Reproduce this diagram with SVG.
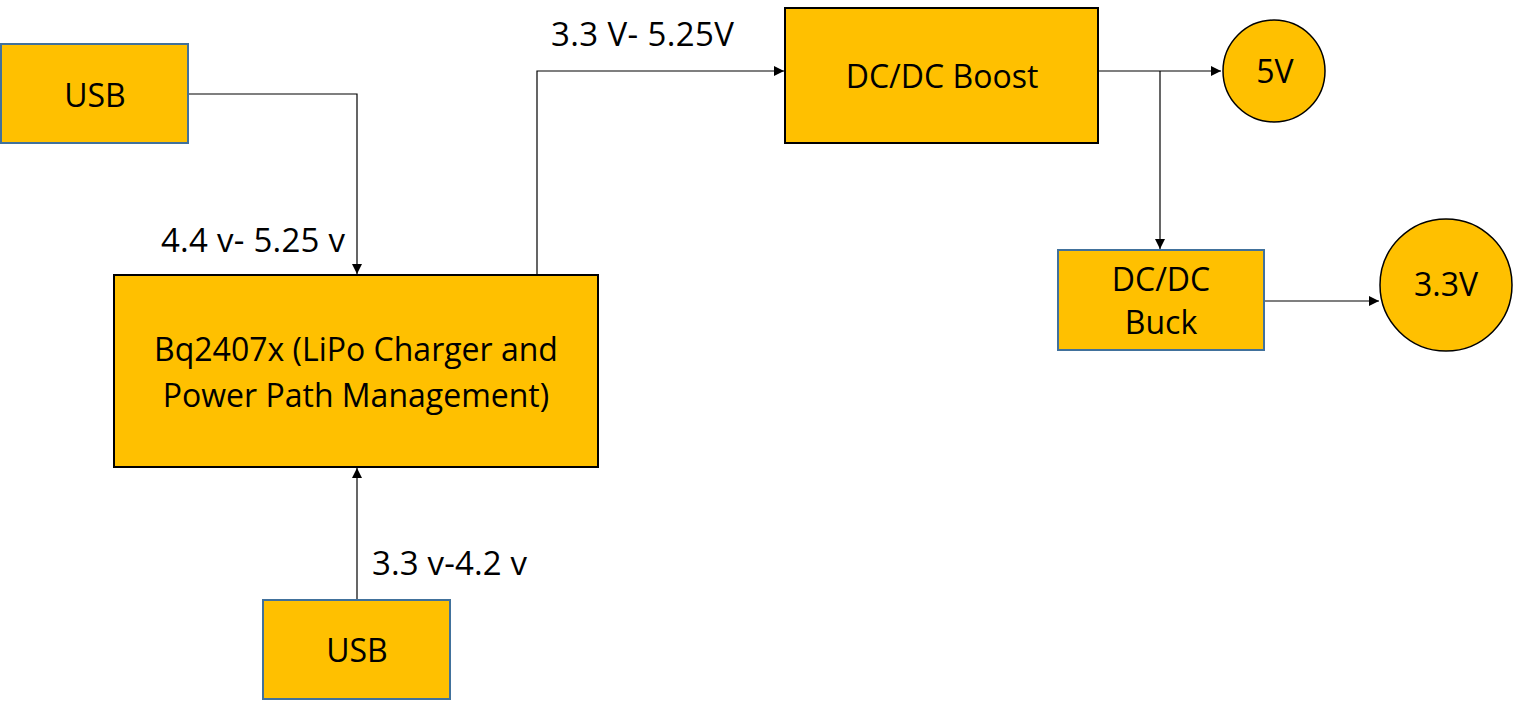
<svg xmlns="http://www.w3.org/2000/svg" width="1513" height="701" viewBox="0 0 1513 701">
<style>
.box{fill:#FFC000;}
.blue{stroke:#41719C;stroke-width:2;}
.blk{stroke:#000;stroke-width:2;}
.t{font-family:"Open Sans","Noto Sans",sans-serif;fill:#000;text-anchor:middle;font-size:32px;}
.lbl{font-family:"Open Sans","Noto Sans",sans-serif;fill:#000;font-size:33px;}
.c{fill:none;stroke:#000;stroke-width:1.2;}
</style>
<defs>
<marker id="ah" markerWidth="10" markerHeight="10" refX="10" refY="5" orient="auto" markerUnits="userSpaceOnUse">
<path d="M0,0 L10,5 L0,10 z" fill="#000"/>
</marker>
</defs>
<rect width="1513" height="701" fill="#fff"/>
<g id="connectors">
<path class="c" d="M188,94 H357 V274" marker-end="url(#ah)"/>
<path class="c" d="M357,600 V468" marker-end="url(#ah)"/>
<path class="c" d="M537,275 V71 H784" marker-end="url(#ah)"/>
<path class="c" d="M1098,71 H1221" marker-end="url(#ah)"/>
<path class="c" d="M1160,71 V249" marker-end="url(#ah)"/>
<path class="c" d="M1264,301 H1379" marker-end="url(#ah)"/>
</g>
<g id="labels">
<text class="lbl" x="161" y="252" textLength="184">4.4 v- 5.25 v</text>
<text class="lbl" x="551" y="46" textLength="183">3.3 V- 5.25V</text>
<text class="lbl" x="372" y="575" textLength="155">3.3 v-4.2 v</text>
</g>
<g id="usb-top">
<rect class="box blue" x="1" y="44" width="187" height="99"/>
<text class="t" x="95" y="107">USB</text>
</g>
<g id="charger">
<rect class="box blk" x="114" y="275" width="484" height="192"/>
<text class="t" x="356" y="361">Bq2407x (LiPo Charger and</text>
<text class="t" x="356" y="407">Power Path Management)</text>
</g>
<g id="usb-bottom">
<rect class="box blue" x="263" y="600" width="187" height="99"/>
<text class="t" x="357" y="662">USB</text>
</g>
<g id="boost">
<rect class="box blk" x="785" y="8" width="313" height="135"/>
<text class="t" x="942" y="88">DC/DC Boost</text>
</g>
<g id="out5v">
<circle class="box" cx="1274" cy="71" r="51" stroke="#000" stroke-width="1.5"/>
<text class="t" x="1275" y="83">5V</text>
</g>
<g id="buck">
<rect class="box blue" x="1058" y="250" width="206" height="100"/>
<text class="t" x="1161" y="291">DC/DC</text>
<text class="t" x="1161" y="334">Buck</text>
</g>
<g id="out33v">
<circle class="box" cx="1446" cy="285" r="66" stroke="#000" stroke-width="1.5"/>
<text class="t" x="1446" y="296" font-size="26">3.3V</text>
</g>
</svg>
